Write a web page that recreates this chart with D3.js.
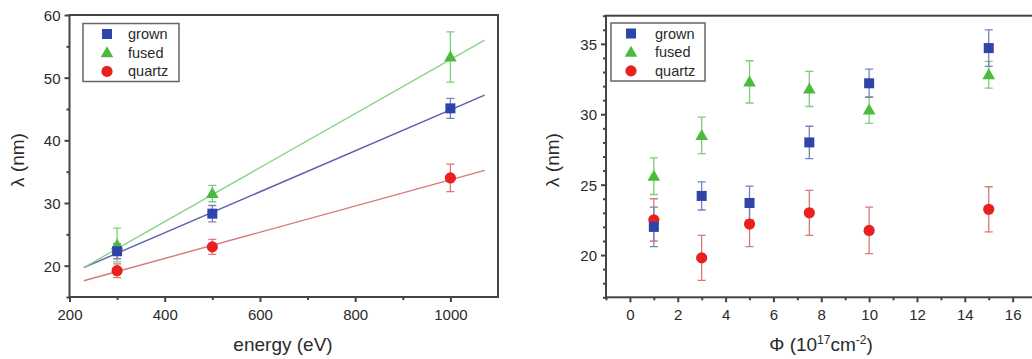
<!DOCTYPE html>
<html><head><meta charset="utf-8">
<script src="https://cdn.jsdelivr.net/npm/d3@7/dist/d3.min.js"></script>
<style>body{margin:0;background:#fff}svg{display:block}</style>
</head><body>
<svg id="c" width="1032" height="359"></svg>
<script>
// ---- Data: left panel (lambda vs energy) ----
const energy = [300, 500, 1000];
const grownE = [22.3, 28.3, 45.1];
const grownEErr = [1.2, 1.3, 1.6];
const fusedE = [23.3, 31.5, 53.3];
const fusedEErr = [2.7, 1.3, 4.0];
const quartzE = [19.2, 23.0, 34.0];
const quartzEErr = [1.1, 1.2, 2.2];
// linear fit lines (value at start and end of fitted range)
const fitEnergy = [230, 1072];
const grownFit = [19.7, 47.2];
const fusedFit = [19.7, 56.0];
const quartzFit = [17.6, 35.2];

// ---- Data: right panel (lambda vs fluence) ----
const phi = [1, 3, 5, 7.5, 10, 15];
const grownP = [22.0, 24.2, 23.7, 28.0, 32.2, 34.7];
const grownPErr = [1.4, 1.0, 1.2, 1.15, 1.0, 1.3];
const fusedP = [25.6, 28.5, 32.3, 31.8, 30.3, 32.8];
const fusedPErr = [1.3, 1.3, 1.5, 1.25, 0.95, 0.95];
const quartzP = [22.5, 19.8, 22.2, 23.0, 21.75, 23.25];
const quartzPErr = [1.5, 1.6, 1.6, 1.6, 1.65, 1.6];

const seriesNames = ["grown", "fused", "quartz"];
const leftXTicks = [200, 400, 600, 800, 1000];
const leftXMinor = [300, 500, 700, 900];
const leftYTicks = [20, 30, 40, 50, 60];
const leftYMinor = [15, 25, 35, 45, 55];
const rightXTicks = [0, 2, 4, 6, 8, 10, 12, 14, 16];
const rightXMinor = [-1, 1, 3, 5, 7, 9, 11, 13, 15, 17];
const rightYTicks = [20, 25, 30, 35];
const rightYMinor = [17,18,19,21,22,23,24,26,27,28,29,31,32,33,34,36,37];

const style = {
  grown:  {fill: "#2f44a8", err: "#7a7fc0", line: "#5b5fb0", shape: "square"},
  fused:  {fill: "#4cbb3c", err: "#7ccf72", line: "#8ad48a", shape: "triangle"},
  quartz: {fill: "#e8211f", err: "#d87878", line: "#d27a7a", shape: "circle"}
};
const FONT = "'Liberation Sans', Arial, sans-serif";
const svg = d3.select("#c");

function drawMarker(g, shape, x, y, color) {
  if (shape === "square") {
    g.append("rect").attr("x", x - 5).attr("y", y - 5).attr("width", 10).attr("height", 10).attr("fill", color);
  } else if (shape === "circle") {
    g.append("circle").attr("cx", x).attr("cy", y).attr("r", 5.6).attr("fill", color);
  } else {
    g.append("path").attr("d", `M${x},${y-6.5}L${x+6.3},${y+4.5}L${x-6.3},${y+4.5}Z`).attr("fill", color);
  }
}

function panel(opts) {
  const {x, y, xt, xm, yt, ym, series, fits, legend, xlabel, ylabelX} = opts;
  const g = svg.append("g");
  const clipId = "clip" + Math.round(x.range()[0]);
  svg.append("clipPath").attr("id", clipId).append("rect")
    .attr("x", x.range()[0]).attr("y", y.range()[1]).attr("width", x.range()[1]-x.range()[0]).attr("height", y.range()[0]-y.range()[1]);
  const plot = g.append("g").attr("clip-path", `url(#${clipId})`);

  if (fits) {
    fits.forEach(f => {
      plot.append("path")
        .attr("d", d3.line().x(d => x(d[0])).y(d => y(d[1]))(f.xs.map((v, i) => [v, f.ys[i]])))
        .attr("stroke", style[f.name].line).attr("stroke-width", 1.4).attr("fill", "none");
    });
  }
  series.forEach(s => {
    const st = style[s.name];
    s.xs.forEach((xv, i) => {
      const cx = x(xv), y0 = y(s.ys[i] - s.err[i]), y1 = y(s.ys[i] + s.err[i]);
      plot.append("line").attr("x1", cx).attr("x2", cx).attr("y1", y0).attr("y2", y1).attr("stroke", st.err).attr("stroke-width", 1.3);
      [y0, y1].forEach(yy => plot.append("line").attr("x1", cx-4).attr("x2", cx+4).attr("y1", yy).attr("y2", yy).attr("stroke", st.err).attr("stroke-width", 1.3));
    });
  });
  series.forEach(s => {
    const st = style[s.name];
    s.xs.forEach((xv, i) => drawMarker(plot, st.shape, x(xv), y(s.ys[i]), st.fill));
  });

  const [xl, xr] = x.range(), [yb, ytp] = y.range();
  g.append("rect").attr("x", xl).attr("y", ytp).attr("width", xr-xl).attr("height", yb-ytp)
    .attr("fill", "none").attr("stroke", "#444").attr("stroke-width", 2);

  const xa = g.append("g").attr("transform", `translate(0,${yb})`)
    .call(d3.axisBottom(x).tickValues(xt).tickSize(5).tickFormat(d3.format("d")));
  const xmin = g.append("g").attr("transform", `translate(0,${yb})`)
    .call(d3.axisBottom(x).tickValues(xm).tickSize(3).tickFormat(""));
  const ya = g.append("g").attr("transform", `translate(${xl},0)`)
    .call(d3.axisLeft(y).tickValues(yt).tickSize(5).tickFormat(d3.format("d")));
  const ymin = g.append("g").attr("transform", `translate(${xl},0)`)
    .call(d3.axisLeft(y).tickValues(ym).tickSize(3).tickFormat(""));
  [xa, xmin, ya, ymin].forEach(a => {
    a.select(".domain").remove();
    a.selectAll(".tick line").attr("stroke", "#444").attr("stroke-width", 2);
    a.selectAll(".tick text").attr("fill", "#2a2a2a").style("font-family", FONT).style("font-size", "15px");
  });
  xa.selectAll(".tick text").attr("dy", "0").attr("y", 23);
  ya.selectAll(".tick text").attr("x", -9).attr("dy", "0.36em");

  const lg = g.append("g");
  lg.append("rect").attr("x", legend.x).attr("y", legend.y).attr("width", legend.w).attr("height", 58)
    .attr("fill", "#fff").attr("stroke", "#666").attr("stroke-width", 1.5);
  seriesNames.forEach((n, i) => {
    const yy = legend.y + 10.5 + i * 18.7;
    drawMarker(lg, style[n].shape, legend.x + legend.mx, yy, style[n].fill);
    lg.append("text").attr("x", legend.x + legend.tx).attr("y", yy).attr("dy", "0.35em")
      .attr("fill", "#2a2a2a").style("font-family", FONT).style("font-size", "14.5px").text(n);
  });

  const xlText = g.append("text").attr("x", xlabel.x).attr("y", 351).attr("text-anchor", "middle")
    .attr("fill", "#2a2a2a").style("font-family", FONT).style("font-size", "19px");
  xlabel.build(xlText);
  g.append("text").attr("transform", `translate(${ylabelX},160) rotate(-90)`).attr("text-anchor", "middle")
    .attr("fill", "#2a2a2a").style("font-family", FONT).style("font-size", "19px").text("λ (nm)");
}

const xL = d3.scaleLinear().domain([200, 1100]).range([69.5, 498]);
const yL = d3.scaleLinear().domain([15, 60]).range([297, 15]);
panel({
  x: xL, y: yL, xt: leftXTicks, xm: leftXMinor, yt: leftYTicks, ym: leftYMinor,
  series: [
    {name: "quartz", xs: energy, ys: quartzE, err: quartzEErr},
    {name: "fused", xs: energy, ys: fusedE, err: fusedEErr},
    {name: "grown", xs: energy, ys: grownE, err: grownEErr}
  ],
  fits: [
    {name: "quartz", xs: fitEnergy, ys: quartzFit},
    {name: "grown", xs: fitEnergy, ys: grownFit},
    {name: "fused", xs: fitEnergy, ys: fusedFit}
  ],
  legend: {x: 83, y: 23.5, w: 96, mx: 24, tx: 45},
  xlabel: {x: 283, build: t => t.text("energy (eV)")},
  ylabelX: 24
});

const xR = d3.scaleLinear().domain([-1, 18]).range([606, 1060.5]);
const yR = d3.scaleLinear().domain([17, 37]).range([297.3, 15.7]);
panel({
  x: xR, y: yR, xt: rightXTicks, xm: rightXMinor, yt: rightYTicks, ym: rightYMinor,
  series: [
    {name: "quartz", xs: phi, ys: quartzP, err: quartzPErr},
    {name: "fused", xs: phi, ys: fusedP, err: fusedPErr},
    {name: "grown", xs: phi, ys: grownP, err: grownPErr}
  ],
  fits: null,
  legend: {x: 611, y: 23, w: 94, mx: 20, tx: 44},
  xlabel: {x: 821, build: t => {
    t.append("tspan").text("Φ (10");
    t.append("tspan").attr("dy", -7).style("font-size", "12px").text("17");
    t.append("tspan").attr("dy", 7).text("cm");
    t.append("tspan").attr("dy", -7).style("font-size", "12px").text("-2");
    t.append("tspan").attr("dy", 7).text(")");
  }},
  ylabelX: 559
});
</script>
</body></html>
